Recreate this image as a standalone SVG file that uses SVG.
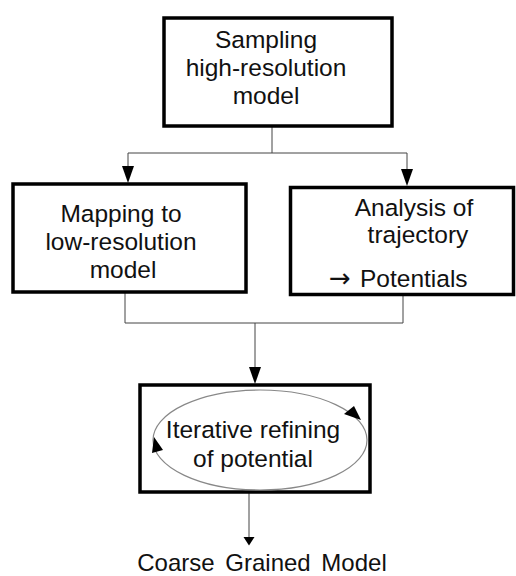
<svg xmlns="http://www.w3.org/2000/svg" width="516" height="576" viewBox="0 0 516 576">
  <style>
    .box { fill: #fff; stroke: #000; stroke-width: 3.5; }
    .wire { fill: none; stroke: #444; stroke-width: 1; }
    .head { fill: #000; }
    .lbl { font-family: "Liberation Sans", Arial, sans-serif; font-size: 24.5px; fill: #111; text-anchor: middle; }
    .loop { fill: none; stroke: #888; stroke-width: 1.2; }
  </style>
  <rect width="516" height="576" fill="#fff"/>

  <!-- connectors -->
  <g id="connectors">
    <polyline class="wire" points="272,126 272,153"/>
    <polyline class="wire" points="128,168 128,153 407,153 407,170"/>
    <polygon class="head" points="122,166 134,166 128,183"/>
    <polygon class="head" points="401,169 413,169 407,186"/>
    <polyline class="wire" points="125,283 125,323 403,323 403,290"/>
    <polyline class="wire" points="255,323 255,368"/>
    <polygon class="head" points="249,367 261,367 255,384"/>
    <polyline class="wire" points="249,492 249,538"/>
    <polygon class="head" points="243.5,537 254.5,537 249,545.5"/>
  </g>

  <g id="sampling">
    <rect class="box" x="164" y="18" width="228" height="108"/>
    <text class="lbl" x="266" y="48">Sampling</text>
    <text class="lbl" x="266" y="76">high-resolution</text>
    <text class="lbl" x="266" y="104">model</text>
  </g>

  <g id="mapping">
    <rect class="box" x="13" y="184" width="233" height="108"/>
    <text class="lbl" x="121" y="222">Mapping to</text>
    <text class="lbl" x="121" y="250">low-resolution</text>
    <text class="lbl" x="123" y="278">model</text>
  </g>

  <g id="analysis">
    <rect class="box" x="290.5" y="187.5" width="223" height="107"/>
    <text class="lbl" x="414" y="216">Analysis of</text>
    <text class="lbl" x="418" y="243">trajectory</text>
    <text class="lbl" y="287" style="text-anchor:start"><tspan x="329" style="font-family:'DejaVu Sans', sans-serif; font-size:26px">→</tspan><tspan x="360">Potentials</tspan></text>
  </g>

  <g id="refining">
    <rect class="box" x="140" y="385" width="230" height="107"/>
    <ellipse class="loop" cx="260" cy="440" rx="107" ry="50"/>
    <polygon class="head" points="361,420 344,414 354,406"/>
    <polygon class="head" points="154,437 152,453 163,450"/>
    <text class="lbl" x="253" y="438">Iterative refining</text>
    <text class="lbl" x="253" y="467">of potential</text>
  </g>

  <g id="result">
    <text class="lbl" x="262" y="571" style="font-size:24px; word-spacing:4px">Coarse Grained Model</text>
  </g>
</svg>
